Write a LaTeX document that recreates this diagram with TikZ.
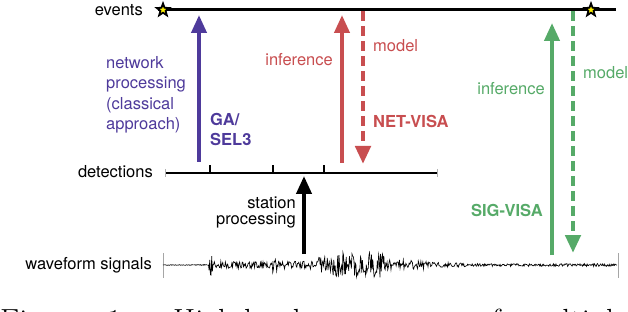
\documentclass[tikz,border=0pt]{standalone}
\usepackage{fontspec}
\newfontfamily\hv{TeX Gyre Heros}
\usetikzlibrary{arrows.meta,shapes.geometric}
\definecolor{cpur}{RGB}{78,58,155}
\definecolor{cred}{RGB}{200,78,80}
\definecolor{cgrn}{RGB}{86,170,104}
\tikzset{
  lbl/.style={font=\hv\fontsize{16.5}{20.5}\selectfont, inner sep=0pt},
  blbl/.style={lbl, font=\hv\bfseries\fontsize{16.5}{20}\selectfont},
  solidarrow/.style={line width=4pt, -{Triangle[length=18pt,width=15pt]}},
  dasharrow/.style={line width=4.5pt, dash pattern=on 10pt off 5pt, -{Triangle[length=18pt,width=15pt]}},
  axisline/.style={line width=2.6pt, line cap=butt},
  tickline/.style={line width=1.6pt},
  evstar/.style={star, star points=5, star point ratio=2.4, minimum size=13pt, inner sep=0pt, draw=black, line width=1.8pt, fill=yellow},
  wave/.style={line width=0.65pt, black},
  capword/.style={font=\fontsize{32}{36}\selectfont, inner sep=0pt, anchor=base west}
}
\begin{document}
\begin{tikzpicture}[x=1pt, y=-1pt,
  declare function={env(\x)=(\x<209)?0.4:((\x<213)?12:((\x<272)?3.4:((\x<277)?11:((\x<318)?4:((\x<330)?8:((\x<385)?12.5:((\x<470)?(6-4.5*(\x-385)/85):1.4)))))));}]
\useasboundingbox (0,0) rectangle (628,312);

% events line
\coordinate (evL) at (158,10);
\coordinate (evR) at (616,10);
\draw[axisline, line width=3pt] (evL) -- (evR);
\node[evstar] (s1) at (163,10) {};
\node[evstar] (s2) at (591,10) {};
\node[lbl, anchor=east] (events) at (143,10) {events};

% detections line
\coordinate (deL) at (165,173);
\coordinate (deR) at (437,173);
\draw[axisline] (deL) -- (deR);
\foreach \t/\n in {210/a,273/b,324/c}{
  \coordinate (tk\n) at (\t,173);
  \coordinate (tt\n) at (\t,165);
  \draw[tickline] (tk\n) -- (tt\n);
}
\draw[gray!60, line width=0.6pt] (165,169) -- (165,177);
\draw[gray!60, line width=0.6pt] (437,169) -- (437,177);
\node[lbl, anchor=east] (det) at (153,172) {detections};

% waveform
\node[lbl, anchor=east] (wf) at (152,265) {waveform signals};
\draw[gray!70, line width=0.6pt] (163,253) -- (163,278);
\draw[gray!70, line width=0.6pt] (618,253) -- (618,278);
\pgfmathsetseed{11}
\draw[wave] plot[domain=163:617, samples=700] (\x,{265+env(\x)*rand});

% purple: network processing
\coordinate (p0) at (199,162);
\coordinate (p1) at (199,15);
\draw[cpur, solidarrow] (p0) -- (p1);
\node[lbl, text=cpur, anchor=north west, align=left] (np) at (106,56) {network\\processing\\(classical\\approach)};
\node[blbl, text=cpur, anchor=north west, align=left] (ga) at (210,113) {GA/\\SEL3};

% red: NET-VISA
\coordinate (r0) at (342,163);
\coordinate (r1) at (342,15);
\draw[cred, solidarrow] (r0) -- (r1);
\coordinate (rd0) at (363,11);
\coordinate (rd1) at (363,164);
\draw[cred, dasharrow] (rd0) -- (rd1);
\node[lbl, text=cred, anchor=east] (rinf) at (333,60) {inference};
\node[lbl, text=cred, anchor=west] (rmod) at (373,46) {model};
\node[blbl, text=cred, anchor=west] (nv) at (373,121) {NET-VISA};

% green: SIG-VISA
\coordinate (g0) at (552,255);
\coordinate (g1) at (552,23);
\draw[cgrn, solidarrow] (g0) -- (g1);
\coordinate (gd0) at (573,11);
\coordinate (gd1) at (573,253);
\draw[cgrn, dasharrow] (gd0) -- (gd1);
\node[lbl, text=cgrn, anchor=east] (ginf) at (545,89) {inference};
\node[lbl, text=cgrn, anchor=west] (gmod) at (583,73) {model};
\node[blbl, text=cgrn, anchor=east] (sv) at (543,210) {SIG-VISA};

% black: station processing
\coordinate (b0) at (304,254);
\coordinate (b1) at (304,176);
\draw[black, solidarrow] (b0) -- (b1);
\node[lbl, anchor=north east, align=right, font=\hv\fontsize{16.5}{16}\selectfont] (sp) at (296,197) {station\\processing};

% caption (cut off at the bottom)
\begin{scope}
\clip (0,0) rectangle (628,312);
\node[capword] (c1) at (0,331) {Figure};
\node[capword] (c2) at (107,331) {1:};
\node[capword] (c3) at (173,331) {High-level};
\node[capword] (c4) at (333,331) {summary};
\node[capword] (c5) at (477,331) {of};
\node[capword] (c6) at (522,331) {multiple};
\end{scope}
\end{tikzpicture}
\end{document}
